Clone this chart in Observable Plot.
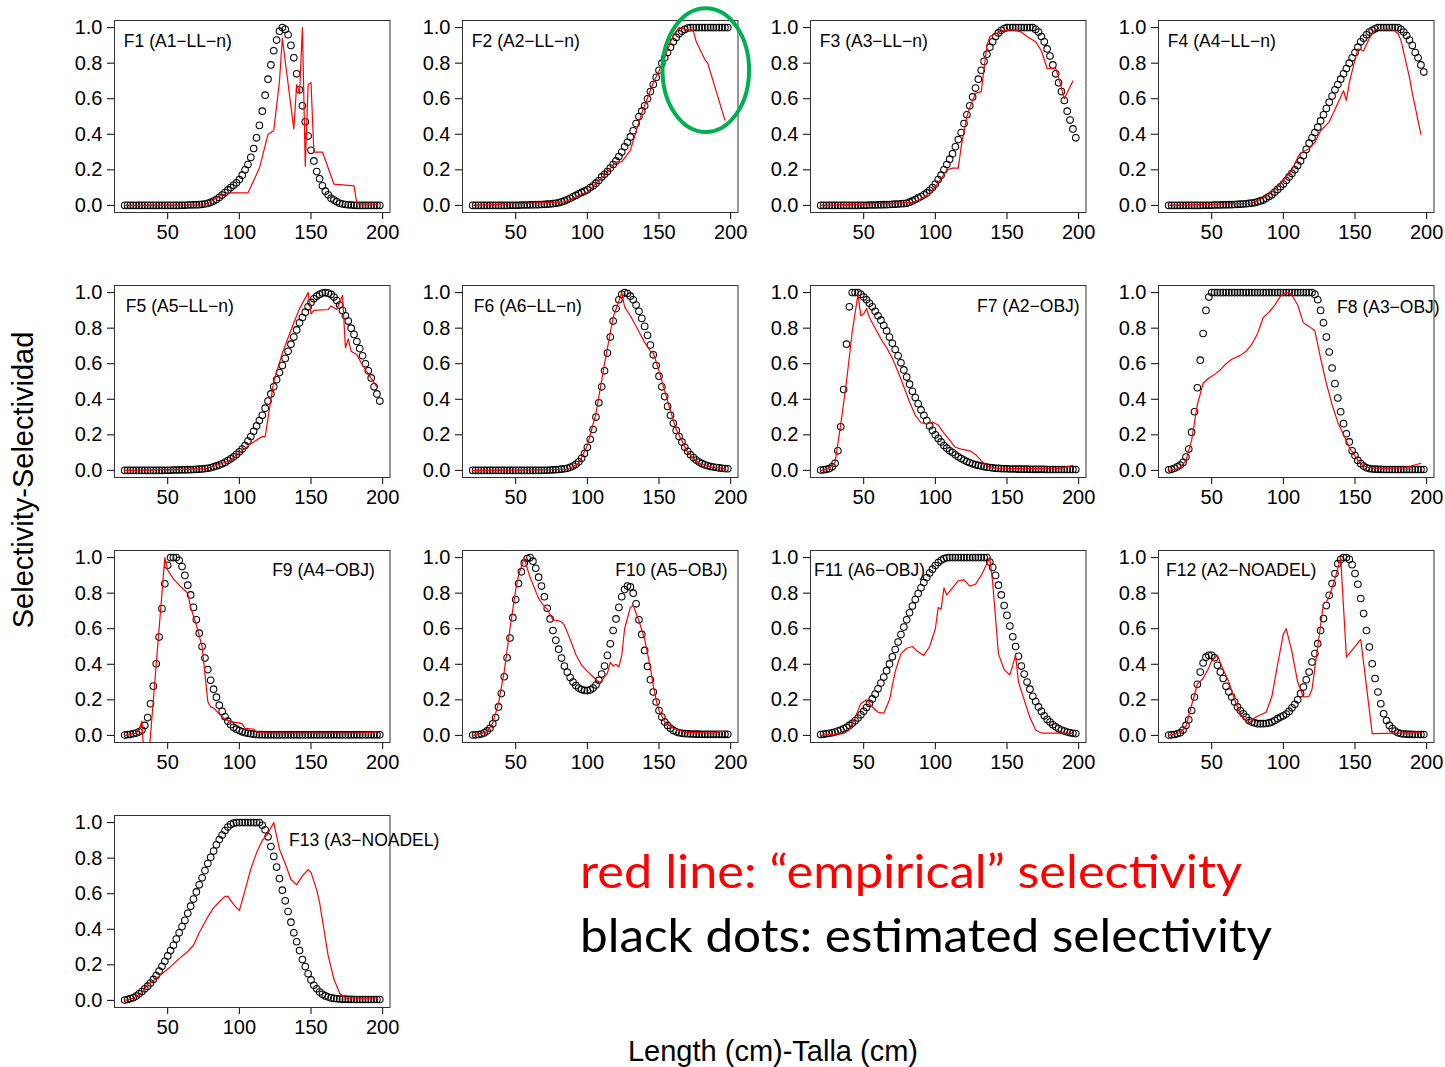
<!DOCTYPE html>
<html><head><meta charset="utf-8">
<script src="https://cdn.jsdelivr.net/npm/d3@7"></script>
<script src="https://cdn.jsdelivr.net/npm/@observablehq/plot@0.6"></script>
<style>
body{margin:0;background:#fff;}
#chart{position:relative;width:1445px;height:1067px;overflow:hidden;background:#fff;}
.panel{position:absolute;}
.panel svg{overflow:visible;max-width:none !important;}
#overlay{position:absolute;left:0;top:0;pointer-events:none;}
</style></head><body><div id="chart"></div>
<script>
// ---------------- DATA ----------------
const lengths = [20,22,24,26,28,30,32,34,36,38,40,42,44,46,48,50,52,54,56,58,60,62,64,66,68,70,72,74,76,78,80,82,84,86,88,90,92,94,96,98,100,102,104,106,108,110,112,114,116,118,120,122,124,126,128,130,132,134,136,138,140,142,144,146,148,150,152,154,156,158,160,162,164,166,168,170,172,174,176,178,180,182,184,186,188,190,192,194,196,198];

const titles = ["F1 (A1−LL−n)","F2 (A2−LL−n)","F3 (A3−LL−n)","F4 (A4−LL−n)","F5 (A5−LL−n)","F6 (A6−LL−n)","F7 (A2−OBJ)","F8 (A3−OBJ)","F9 (A4−OBJ)","F10 (A5−OBJ)","F11 (A6−OBJ)","F12 (A2−NOADEL)","F13 (A3−NOADEL)"];

const f1Dots = [0,0,0,0,0,0,0,0,0,0, 0,0,0,0,0,0,0,0,0,0,
 0.001,0.001,0.002,0.002,0.003,0.003,0.004,0.006,0.008,0.012,
 0.017,0.024,0.033,0.045,0.058,0.072,0.087,0.1,0.113,0.127,
 0.145,0.17,0.2,0.23,0.27,0.32,0.38,0.45,0.53,0.62,
 0.71,0.79,0.87,0.93,0.98,1,0.99,0.96,0.9,0.83,
 0.74,0.65,0.56,0.47,0.39,0.31,0.25,0.19,0.15,0.11,
 0.08,0.06,0.04,0.03,0.02,0.012,0.008,0.005,0.003,0.002,
 0.001,0,0,0,0,0,0,0,0,0];
const f2Dots = [0,0,0,0,0,0,0,0,0,0, 0,0,0,0.001,0.001,0.001,0.001,0.002,0.002,0.002,
 0.003,0.003,0.004,0.004,0.005,0.006,0.007,0.008,0.01,0.012,
 0.015,0.02,0.025,0.032,0.04,0.048,0.056,0.065,0.073,0.08,
 0.088,0.1,0.11,0.125,0.14,0.16,0.175,0.19,0.21,0.23,
 0.25,0.275,0.3,0.33,0.355,0.385,0.42,0.46,0.5,0.53,
 0.56,0.6,0.64,0.68,0.72,0.76,0.8,0.83,0.86,0.89,
 0.92,0.945,0.965,0.98,0.99,0.998,1,1,1,1,
 1,1,1,1,1,1,1,1,1,1];
const f3Dots = [0,0,0,0,0,0,0,0,0,0, 0,0,0,0,0.001,0.001,0.001,0.002,0.002,0.002,
 0.003,0.003,0.004,0.004,0.005,0.006,0.007,0.008,0.009,0.01,
 0.012,0.018,0.025,0.033,0.042,0.05,0.06,0.07,0.085,0.1,
 0.12,0.145,0.17,0.2,0.23,0.26,0.29,0.33,0.37,0.41,
 0.46,0.51,0.56,0.61,0.66,0.71,0.76,0.81,0.85,0.89,
 0.92,0.95,0.97,0.985,0.995,1,1,1,1,1,
 1,1,1,1,1,0.99,0.975,0.95,0.92,0.88,
 0.84,0.79,0.74,0.69,0.64,0.59,0.53,0.48,0.43,0.38];
const f4Dots = [0,0,0,0,0,0,0,0,0,0, 0,0,0.001,0.001,0.001,0.001,0.002,0.002,0.002,0.003,
 0.003,0.004,0.004,0.005,0.006,0.007,0.008,0.009,0.011,0.013,
 0.015,0.02,0.025,0.03,0.04,0.05,0.06,0.075,0.09,0.105,
 0.12,0.14,0.16,0.18,0.2,0.225,0.25,0.28,0.315,0.35,
 0.38,0.41,0.44,0.475,0.51,0.545,0.58,0.615,0.65,0.68,
 0.71,0.74,0.77,0.8,0.83,0.86,0.89,0.92,0.94,0.96,
 0.975,0.985,0.993,1,1,1,1,1,1,1,
 1,0.99,0.975,0.955,0.93,0.9,0.86,0.83,0.79,0.75];
const f5Dots = [0,0,0,0,0,0,0,0,0,0, 0,0,0,0,0.001,0.001,0.001,0.002,0.002,0.002,
 0.003,0.003,0.004,0.004,0.005,0.006,0.007,0.008,0.01,0.012,
 0.015,0.02,0.025,0.03,0.037,0.045,0.055,0.065,0.077,0.09,
 0.105,0.12,0.14,0.165,0.19,0.22,0.25,0.28,0.31,0.35,
 0.39,0.43,0.47,0.51,0.55,0.59,0.63,0.67,0.71,0.75,
 0.79,0.83,0.86,0.89,0.92,0.945,0.965,0.98,0.99,0.998,
 1,0.997,0.99,0.975,0.955,0.93,0.9,0.87,0.84,0.8,
 0.765,0.725,0.685,0.645,0.6,0.56,0.52,0.47,0.43,0.39];
const f6Dots = [0,0,0,0,0,0,0,0,0,0, 0,0,0,0,0,0,0,0,0,0,
 0,0,0,0,0,0.001,0.001,0.002,0.003,0.004,
 0.005,0.007,0.009,0.012,0.017,0.024,0.034,0.048,0.068,0.095,
 0.13,0.175,0.23,0.3,0.38,0.47,0.56,0.66,0.75,0.84,
 0.91,0.96,0.99,1,0.995,0.98,0.96,0.93,0.895,0.855,
 0.81,0.76,0.705,0.65,0.59,0.53,0.47,0.415,0.36,0.31,
 0.265,0.225,0.19,0.16,0.13,0.107,0.088,0.072,0.058,0.047,
 0.038,0.031,0.026,0.022,0.019,0.016,0.014,0.012,0.01,0.009];
const f7Dots = [0.002,0.003,0.006,0.01,0.02,0.04,0.11,0.245,0.455,0.71,
 0.92,1,1,1,0.99,0.975,0.96,0.94,0.92,0.895,
 0.87,0.845,0.815,0.785,0.75,0.715,0.68,0.645,0.605,0.565,
 0.525,0.485,0.445,0.41,0.375,0.34,0.31,0.28,0.25,0.225,
 0.2,0.18,0.16,0.14,0.125,0.11,0.1,0.088,0.077,0.067,
 0.058,0.05,0.043,0.037,0.032,0.028,0.024,0.021,0.018,0.016,
 0.014,0.012,0.011,0.01,0.009,0.009,0.008,0.008,0.008,0.007,
 0.007,0.007,0.007,0.006,0.006,0.006,0.006,0.006,0.006,0.005,
 0.005,0.005,0.005,0.005,0.005,0.005,0.005,0.005,0.005,0.005];
const f8Dots = [0.003,0.006,0.012,0.02,0.03,0.045,0.075,0.12,0.215,0.33,
 0.465,0.62,0.77,0.9,0.975,1,1,1,1,1,
 1,1,1,1,1,1,1,1,1,1,
 1,1,1,1,1,1,1,1,1,1,
 1,1,1,1,1,1,1,1,1,1,
 1,0.99,0.96,0.9,0.83,0.75,0.666,0.576,0.488,0.407,
 0.33,0.263,0.206,0.16,0.11,0.084,0.056,0.038,0.024,0.015,
 0.01,0.008,0.007,0.006,0.006,0.005,0.005,0.005,0.005,0.005,
 0.005,0.005,0.005,0.005,0.005,0.005,0.005,0.005,0.005,0.005];
const f9Dots = [0.002,0.004,0.006,0.01,0.013,0.02,0.03,0.056,0.1,0.178,
 0.277,0.403,0.553,0.713,0.853,0.957,1,1,1,0.985,
 0.95,0.9,0.845,0.79,0.72,0.65,0.575,0.5,0.435,0.37,
 0.31,0.26,0.215,0.17,0.135,0.105,0.08,0.06,0.045,0.035,
 0.027,0.02,0.015,0.012,0.009,0.007,0.005,0.004,0.004,0.003,
 0.003,0.003,0.003,0.003,0.003,0.003,0.003,0.003,0.003,0.003,
 0.003,0.003,0.003,0.003,0.003,0.003,0.003,0.003,0.003,0.003,
 0.003,0.003,0.003,0.003,0.003,0.003,0.003,0.003,0.003,0.003,
 0.003,0.003,0.003,0.003,0.003,0.003,0.003,0.003,0.003,0.003];
const f10Dots = [0.002,0.003,0.005,0.008,0.014,0.025,0.04,0.065,0.1,0.16,
 0.235,0.33,0.437,0.548,0.662,0.764,0.854,0.92,0.97,0.995,
 1,0.98,0.94,0.89,0.84,0.78,0.715,0.655,0.59,0.535,
 0.485,0.435,0.39,0.355,0.325,0.3,0.28,0.266,0.258,0.253,
 0.252,0.256,0.266,0.283,0.31,0.345,0.39,0.45,0.515,0.59,
 0.655,0.72,0.78,0.82,0.84,0.835,0.8,0.74,0.65,0.568,
 0.478,0.388,0.313,0.244,0.188,0.14,0.103,0.075,0.056,0.04,
 0.028,0.02,0.015,0.012,0.01,0.009,0.008,0.008,0.007,0.007,
 0.006,0.006,0.006,0.006,0.006,0.006,0.006,0.006,0.006,0.006];
const f11Dots = [0.005,0.007,0.009,0.012,0.015,0.019,0.024,0.03,0.037,0.046,
 0.056,0.068,0.082,0.098,0.116,0.136,0.157,0.18,0.205,0.232,
 0.262,0.294,0.328,0.364,0.402,0.442,0.483,0.525,0.567,0.609,
 0.65,0.69,0.728,0.764,0.798,0.83,0.86,0.888,0.913,0.935,
 0.955,0.972,0.985,0.994,0.999,1,1,1,1,1,
 1,1,1,1,1,1,1,1,1,0.975,
 0.945,0.9,0.845,0.79,0.73,0.675,0.615,0.555,0.5,0.445,
 0.39,0.345,0.3,0.26,0.22,0.19,0.16,0.135,0.11,0.09,
 0.075,0.06,0.048,0.038,0.03,0.024,0.019,0.015,0.012,0.01];
const f12Dots = [0.002,0.003,0.005,0.009,0.015,0.03,0.056,0.088,0.14,0.216,
 0.287,0.356,0.407,0.44,0.45,0.45,0.437,0.394,0.356,0.32,
 0.276,0.244,0.216,0.188,0.16,0.14,0.122,0.103,0.084,0.075,
 0.07,0.066,0.066,0.066,0.067,0.07,0.075,0.084,0.094,0.103,
 0.11,0.12,0.135,0.155,0.175,0.2,0.235,0.272,0.313,0.356,
 0.413,0.46,0.516,0.59,0.657,0.73,0.788,0.854,0.91,0.966,
 0.99,1,1,0.99,0.96,0.91,0.85,0.77,0.685,0.59,
 0.497,0.403,0.32,0.244,0.178,0.122,0.084,0.056,0.038,0.024,
 0.015,0.01,0.008,0.007,0.006,0.006,0.005,0.005,0.005,0.005];
const f13Dots = [0.002,0.005,0.01,0.015,0.024,0.037,0.05,0.065,0.08,0.098,
 0.118,0.14,0.165,0.192,0.22,0.25,0.28,0.31,0.345,0.38,
 0.415,0.45,0.49,0.53,0.57,0.61,0.65,0.69,0.73,0.77,
 0.805,0.84,0.875,0.905,0.93,0.955,0.975,0.99,0.997,1,
 1,1,1,1,1,1,1,1,0.985,0.96,
 0.92,0.865,0.81,0.75,0.685,0.62,0.56,0.5,0.44,0.38,
 0.33,0.28,0.23,0.19,0.15,0.115,0.085,0.065,0.047,0.034,
 0.025,0.019,0.014,0.011,0.009,0.008,0.007,0.007,0.006,0.006,
 0.005,0.005,0.005,0.005,0.005,0.005,0.005,0.005,0.005,0.005];

// empirical selectivity: [length, value] vertices
const f1Red = [[20,0],[76,0.003],[88,0.06],[94,0.07],[106,0.07],[114,0.21],[120,0.4],[124,0.42],[128,0.7],[130,0.94],[138,0.43],[140,0.68],[142,0.63],[144,1.0],[146,0.22],[148,0.68],[150,0.69],[152,0.3],[158,0.3],[166,0.12],[180,0.11],[182,0.01],[196,0.005]];
const f2Red = [[20,0],[84,0.02],[100,0.075],[112,0.17],[120,0.245],[124,0.245],[130,0.31],[138,0.52],[146,0.69],[152,0.79],[160,0.96],[164,1.0],[174,0.98],[176,0.92],[182,0.82],[184,0.8],[196,0.48]];
const f3Red = [[20,0],[84,0.015],[96,0.06],[104,0.15],[108,0.2],[112,0.21],[116,0.21],[118,0.33],[122,0.5],[124,0.55],[128,0.63],[132,0.64],[136,0.9],[138,0.95],[146,0.98],[154,0.99],[160,0.975],[164,0.95],[170,0.92],[174,0.87],[178,0.77],[184,0.77],[186,0.72],[190,0.6],[196,0.7]];
const f4Red = [[20,0],[78,0.012],[88,0.05],[94,0.09],[100,0.14],[106,0.2],[110,0.27],[112,0.295],[118,0.32],[122,0.355],[126,0.42],[132,0.47],[136,0.54],[140,0.61],[142,0.645],[144,0.59],[146,0.69],[150,0.82],[152,0.88],[156,0.87],[160,0.94],[164,0.99],[176,0.99],[180,0.965],[182,0.93],[188,0.72],[190,0.63],[196,0.4]];
const f5Red = [[20,0],[76,0.008],[92,0.05],[100,0.1],[108,0.15],[116,0.19],[118,0.19],[124,0.5],[130,0.66],[138,0.83],[142,0.91],[148,1.0],[150,0.88],[152,0.9],[162,0.905],[164,0.925],[168,0.905],[172,0.985],[174,0.69],[176,0.74],[178,0.67],[182,0.65],[186,0.59],[196,0.47]];
const f6Red = [[20,0],[86,0.005],[94,0.04],[100,0.14],[106,0.32],[112,0.6],[118,0.86],[124,1.0],[126,0.92],[130,0.87],[136,0.78],[140,0.72],[144,0.67],[146,0.66],[150,0.56],[156,0.39],[162,0.23],[170,0.1],[178,0.04],[186,0.02],[196,0.01]];
const f7Red = [[20,0],[26,0.01],[30,0.045],[34,0.26],[38,0.5],[42,0.78],[46,0.99],[48,0.87],[50,0.88],[52,0.91],[54,0.86],[58,0.8],[62,0.74],[66,0.69],[70,0.63],[74,0.555],[78,0.47],[82,0.385],[86,0.31],[90,0.268],[94,0.262],[98,0.272],[102,0.255],[106,0.21],[110,0.17],[114,0.13],[118,0.12],[124,0.11],[128,0.09],[132,0.055],[136,0.025],[142,0.012],[156,0.01],[188,0.013],[196,0.028]];
const f8Red = [[20,0],[24,0.004],[28,0.015],[32,0.055],[36,0.17],[40,0.37],[44,0.49],[48,0.52],[52,0.54],[56,0.565],[60,0.6],[64,0.625],[70,0.647],[74,0.67],[78,0.71],[82,0.77],[86,0.86],[90,0.89],[94,0.93],[98,0.98],[102,1.0],[104,1.0],[106,0.985],[110,0.93],[114,0.83],[118,0.81],[122,0.785],[126,0.63],[130,0.49],[134,0.37],[138,0.27],[142,0.2],[146,0.13],[150,0.08],[154,0.035],[158,0.019],[164,0.013],[184,0.013],[196,0.04]];
const f9Red = [[20,0],[28,0.012],[30,0.03],[32,0.08],[34,-0.2],[36,-0.2],[48,1.0],[50,0.93],[54,0.88],[58,0.845],[62,0.815],[64,0.8],[66,0.72],[70,0.62],[74,0.5],[78,0.19],[80,0.16],[82,0.155],[86,0.12],[90,0.09],[96,0.075],[100,0.07],[102,0.065],[104,0.04],[110,0.036],[112,0.02],[120,0.013],[184,0.013],[196,0.02]];
const f10Red = [[20,0],[30,0.02],[34,0.07],[38,0.18],[42,0.36],[46,0.6],[50,0.82],[52,0.9],[56,1.0],[58,0.94],[60,0.89],[64,0.81],[66,0.77],[70,0.725],[72,0.71],[74,0.68],[76,0.65],[80,0.645],[82,0.638],[84,0.62],[88,0.54],[92,0.455],[96,0.395],[100,0.36],[104,0.33],[108,0.3],[110,0.305],[112,0.33],[114,0.35],[116,0.41],[118,0.39],[120,0.4],[122,0.385],[124,0.45],[126,0.6],[130,0.72],[132,0.73],[136,0.645],[140,0.54],[144,0.38],[146,0.28],[148,0.2],[150,0.14],[154,0.075],[160,0.04],[168,0.018],[186,0.013],[196,0.024]];
const f11Red = [[20,0],[36,0.01],[40,0.03],[44,0.1],[48,0.18],[52,0.2],[56,0.16],[60,0.13],[64,0.125],[68,0.2],[72,0.36],[76,0.46],[80,0.49],[84,0.5],[88,0.47],[92,0.45],[96,0.5],[100,0.6],[102,0.72],[104,0.71],[106,0.83],[108,0.79],[112,0.83],[116,0.87],[120,0.875],[124,0.84],[128,0.85],[132,0.9],[138,1.0],[140,0.86],[144,0.46],[148,0.37],[152,0.34],[156,0.45],[158,0.3],[162,0.2],[166,0.1],[170,0.03],[174,0.013],[196,0.013]];
const f12Red = [[20,0],[28,0.015],[32,0.05],[36,0.17],[40,0.29],[44,0.32],[48,0.38],[50,0.42],[54,0.45],[58,0.37],[62,0.3],[66,0.2],[70,0.12],[74,0.08],[76,0.07],[80,0.1],[84,0.115],[88,0.13],[92,0.22],[96,0.4],[100,0.57],[102,0.6],[106,0.47],[110,0.3],[114,0.215],[118,0.22],[120,0.26],[124,0.5],[128,0.74],[130,0.75],[132,0.78],[136,0.88],[140,1.0],[144,0.44],[148,0.48],[152,0.52],[154,0.54],[162,0.01],[196,0.015]];
const f13Red = [[20,0],[26,0.012],[32,0.045],[36,0.09],[40,0.11],[46,0.15],[52,0.19],[58,0.235],[64,0.275],[68,0.31],[72,0.38],[78,0.47],[82,0.52],[86,0.555],[90,0.585],[92,0.585],[96,0.54],[100,0.505],[104,0.62],[108,0.74],[112,0.83],[116,0.9],[120,0.94],[124,1.0],[128,0.85],[132,0.77],[136,0.68],[140,0.65],[144,0.7],[148,0.735],[150,0.72],[154,0.62],[156,0.55],[162,0.25],[166,0.12],[170,0.04],[174,0.013],[196,0.013]];

const xTicks = [50,100,150,200];
const yTicks = [0,0.2,0.4,0.6,0.8,1.0];
const legendLines = ["red line: \u201Cempirical\u201D selectivity","black dots: estimated selectivity"];
const yTitle = "Selectivity-Selectividad";
const xTitle = "Length (cm)-Talla (cm)";

const dotSeries = [f1Dots,f2Dots,f3Dots,f4Dots,f5Dots,f6Dots,f7Dots,f8Dots,f9Dots,f10Dots,f11Dots,f12Dots,f13Dots];
const redSeries = [f1Red,f2Red,f3Red,f4Red,f5Red,f6Red,f7Red,f8Red,f9Red,f10Red,f11Red,f12Red,f13Red];

// ---------------- LAYOUT ----------------
const boxLeft = [114, 462, 810, 1158];
const boxTop = [20, 285, 550, 815];
const boxW = 275.5, boxH = 192;
const mL = 60, mT = 15, mR = 20, mB = 45;
const titlePos = [
 {x:19.4,y:0.925,a:"start"},{x:19.4,y:0.925,a:"start"},{x:19.4,y:0.925,a:"start"},{x:19.4,y:0.925,a:"start"},
 {x:20.8,y:0.925,a:"start"},{x:20.8,y:0.925,a:"start"},{x:200.7,y:0.925,a:"end"},{x:137.5,y:0.915,a:"start"},
 {x:194.5,y:0.93,a:"end"},{x:197.9,y:0.93,a:"end"},{x:15.3,y:0.93,a:"start"},{x:18.1,y:0.93,a:"start"},
 {x:134.7,y:0.9,a:"start"}
];
const ring = {panel:1, cx:183, cy:0.758, rx:30.2, ry:0.348};

const chart = document.getElementById("chart");
const FONT = "'Liberation Sans', Arial, sans-serif";
const W = mL + boxW + mR, H = mT + boxH + mB;

dotSeries.forEach((vals, i) => {
  const col = i % 4, row = Math.floor(i / 4);
  const dots = lengths.map((x, k) => ({x, y: vals[k]}));
  const red = redSeries[i].map(([x, y]) => ({x, y}));
  const tp = titlePos[i];
  const svg = Plot.plot({
    width: W, height: H,
    marginLeft: mL, marginRight: mR, marginTop: mT, marginBottom: mB,
    style: {background: "transparent", fontFamily: FONT, fontSize: "20px", color: "#000", overflow: "visible", maxWidth: "none"},
    x: {domain: [12.88, 205.12], axis: null},
    y: {domain: [-0.04, 1.04], axis: null},
    marks: [
      Plot.axisX({ticks: xTicks, tickSize: 7, tickPadding: 5, label: null, fontSize: 20, tickFormat: d => String(d)}),
      Plot.axisY({ticks: yTicks, tickSize: 7, tickPadding: 5, label: null, fontSize: 20, tickFormat: d => d.toFixed(1)}),
      Plot.dot(dots, {x: "x", y: "y", r: 3.3, stroke: "#000", strokeWidth: 1.05, fill: "none"}),
      Plot.line(red, {x: "x", y: "y", stroke: "#ff0000", strokeWidth: 1.2, clip: true}),
      Plot.frame({stroke: "#333", strokeWidth: 1}),
      Plot.text([titles[i]], {x: () => tp.x, y: () => tp.y, text: d => d, textAnchor: tp.a, fontSize: 17.5, fill: "#000"})
    ]
  });
  svg.style.maxWidth = "none";
  svg.setAttribute("width", W);
  svg.setAttribute("height", H);
  const div = document.createElement("div");
  div.className = "panel";
  div.style.left = (boxLeft[col] - mL) + "px";
  div.style.top = (boxTop[row] - mT) + "px";
  div.style.width = W + "px";
  div.style.height = H + "px";
  div.appendChild(svg);
  chart.appendChild(div);
  if (i === ring.panel) {
    const sx = svg.scale("x"), sy = svg.scale("y");
    const cx = sx.apply(ring.cx), cy = sy.apply(ring.cy);
    d3.select(svg).append("ellipse")
      .attr("cx", cx).attr("cy", cy)
      .attr("rx", sx.apply(ring.cx + ring.rx) - cx)
      .attr("ry", sy.apply(ring.cy) - sy.apply(ring.cy + ring.ry))
      .attr("fill", "none").attr("stroke", "#00b050").attr("stroke-width", 4);
  }
});

// overlay: axis titles and legend
const ov = d3.select(chart).append("svg").attr("id", "overlay").attr("width", 1445).attr("height", 1067);
ov.append("text").attr("transform", "translate(33,480) rotate(-90)").attr("text-anchor", "middle")
  .attr("font-family", FONT).attr("font-size", 29).attr("fill", "#000").text(yTitle);
ov.append("text").attr("x", 773).attr("y", 1061).attr("text-anchor", "middle")
  .attr("font-family", FONT).attr("font-size", 29).attr("fill", "#000").text(xTitle);
ov.append("text").attr("x", 580).attr("y", 888).attr("font-family", "Lato, 'Open Sans', sans-serif")
  .attr("font-size", 47).attr("fill", "#ff0000").attr("textLength", 662).attr("lengthAdjust", "spacingAndGlyphs").text(legendLines[0]);
ov.append("text").attr("x", 580).attr("y", 952).attr("font-family", "Lato, 'Open Sans', sans-serif")
  .attr("font-size", 47).attr("fill", "#000").attr("textLength", 692).attr("lengthAdjust", "spacingAndGlyphs").text(legendLines[1]);
</script>
</body></html>
